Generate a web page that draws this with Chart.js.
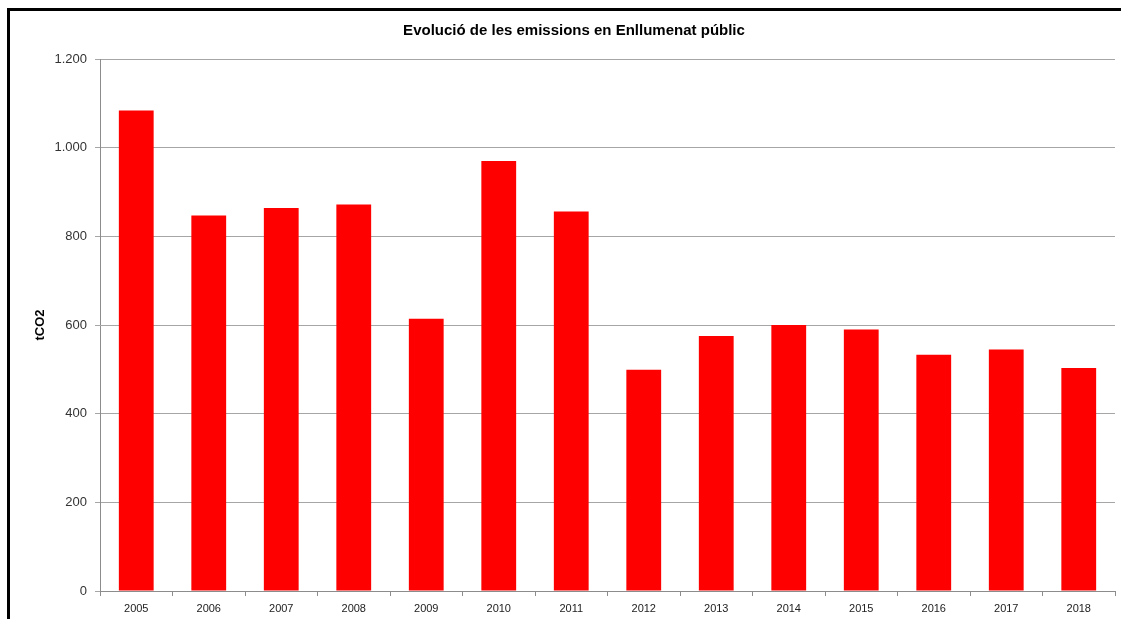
<!DOCTYPE html>
<html>
<head>
<meta charset="utf-8">
<title>Evolució de les emissions en Enllumenat públic</title>
<script src="https://cdn.jsdelivr.net/npm/chart.js@4/dist/chart.umd.min.js"></script>
<style>
  html, body { margin: 0; padding: 0; background: #fff; overflow: hidden; }
  #wrap { position: relative; width: 1121px; height: 619px; }
  #frame { position: absolute; left: 7px; top: 8px; right: -20px; bottom: -20px; border: 3px solid #000; }
  #chart { position: absolute; left: 0; top: 0; }
</style>
</head>
<body>
<div id="wrap">
  <canvas id="chart" width="1121" height="619"></canvas>
  <div id="frame"></div>
</div>
<script>
const years = ['2005', '2006', '2007', '2008', '2009', '2010', '2011', '2012', '2013', '2014', '2015', '2016', '2017', '2018'];
const emissions = [1084, 847, 864, 872, 614, 970, 856, 499, 575, 600, 590, 533, 545, 503];
const yTicks = [0, 200, 400, 600, 800, 1000, 1200];

// format 1200 -> "1.200"
const fmt = (v) => String(v).replace(/\B(?=(\d{3})+(?!\d))/g, '.');

const ctx = document.getElementById('chart').getContext('2d');
new Chart(ctx, {
  type: 'bar',
  data: {
    labels: years,
    datasets: [{
      label: 'tCO2',
      data: emissions,
      backgroundColor: '#ff0000',
      borderWidth: 0,
      categoryPercentage: 1,
      barPercentage: 0.48
    }]
  },
  options: {
    responsive: false,
    devicePixelRatio: 1,
    animation: false,
    layout: { padding: { top: 22, left: 33, right: 6, bottom: 0 } },
    plugins: {
      legend: { display: false },
      tooltip: { enabled: false },
      title: {
        display: true,
        text: 'Evolució de les emissions en Enllumenat públic',
        color: '#000',
        font: { family: 'Liberation Sans', size: 15, weight: 'bold', lineHeight: 1.2 },
        padding: { top: 0, bottom: 19 }
      }
    },
    scales: {
      x: {
        afterFit: (scale) => { scale.height = 28; },
        grid: { display: true, drawOnChartArea: false, drawTicks: true, tickLength: 5, color: '#8c8c8c', offset: true },
        border: { display: true, color: '#8c8c8c' },
        ticks: { color: '#222', font: { family: 'Liberation Sans', size: 11 }, padding: 6, maxRotation: 0 }
      },
      y: {
        min: 0,
        max: 1200,
        afterFit: (scale) => { scale.width = 67; },
        afterBuildTicks: (scale) => { scale.ticks = yTicks.map(v => ({ value: v })); },
        grid: { color: '#a6a6a6', tickLength: 5 },
        border: { display: true, color: '#8c8c8c' },
        title: {
          display: true,
          text: 'tCO2',
          color: '#000',
          font: { family: 'Liberation Sans', size: 13, weight: 'bold' },
          padding: 0
        },
        ticks: {
          color: '#333',
          font: { family: 'Liberation Sans', size: 13 },
          padding: 8,
          callback: (v) => fmt(v)
        }
      }
    }
  }
});
</script>
</body>
</html>
